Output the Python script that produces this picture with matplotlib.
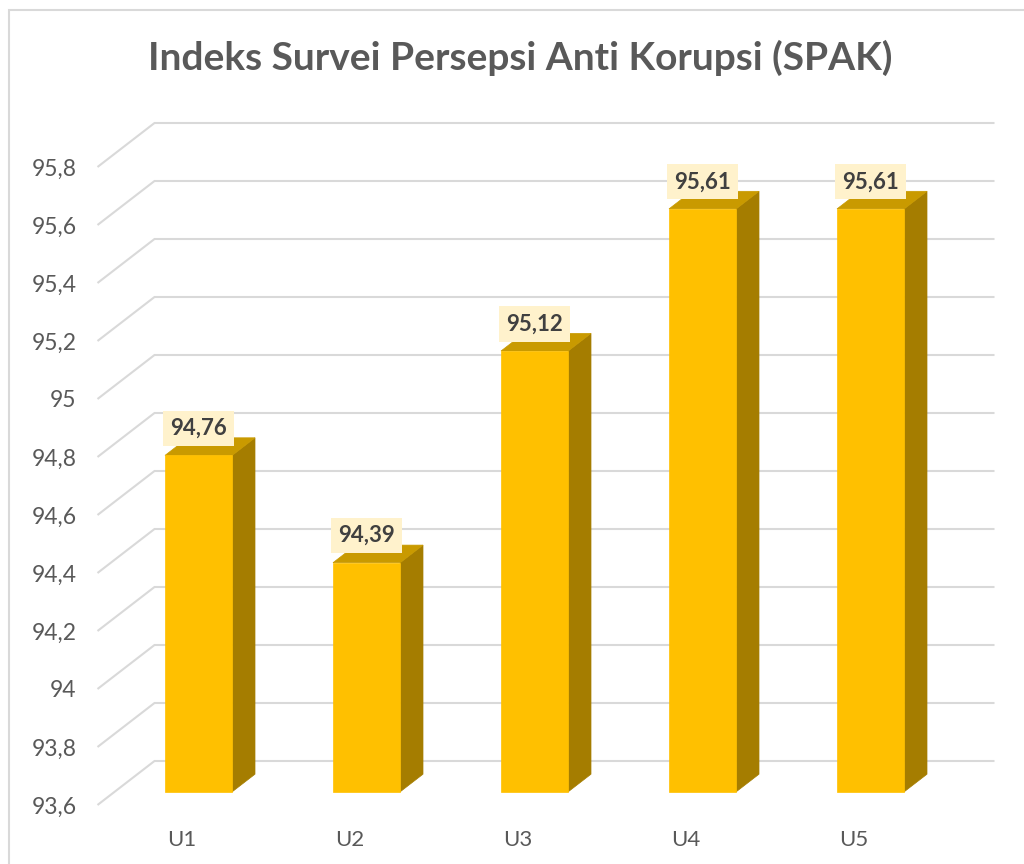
import matplotlib
matplotlib.use("Agg")
import matplotlib.pyplot as plt
import numpy as np
from matplotlib.patches import Polygon, Rectangle

categories = ["U1", "U2", "U3", "U4", "U5"]
values = [94.76, 94.39, 95.12, 95.61, 95.61]
value_labels = ["94,76", "94,39", "95,12", "95,61", "95,61"]
yticks = [93.6, 93.8, 94.0, 94.2, 94.4, 94.6, 94.8, 95.0, 95.2, 95.4, 95.6, 95.8]
ytick_labels = ["93,6", "93,8", "94", "94,2", "94,4", "94,6", "94,8", "95", "95,2", "95,4", "95,6", "95,8"]
title = "Indeks Survei Persepsi Anti Korupsi (SPAK)"

FONT = "Lato"
W, H = 1024, 864
fig = plt.figure(figsize=(W / 100, H / 100), dpi=100)
fig.patch.set_facecolor("white")

# outer chart border
fig.add_artist(Rectangle((9 / W, -0.01), 1.02, 1 - 10 / H + 0.01, transform=fig.transFigure,
                         fill=False, edgecolor="#D9D9D9", lw=1.5))

ax_left, ax_right = 97.5, 937.5
ax_bottom, ax_top = 805, 167
ax = fig.add_axes([ax_left / W, (H - ax_bottom) / H, (ax_right - ax_left) / W, (ax_bottom - ax_top) / H])
ax.set_xlim(-0.5, len(categories) - 0.5)
ax.set_ylim(93.6, 95.8)
for s in ax.spines.values():
    s.set_visible(False)
ax.patch.set_visible(False)

DX, DY = 57.0, 44.0  # depth offset in px for full depth

inv = ax.transData.inverted()


def P(x, y, d):
    px, py = ax.transData.transform((x, y))
    return inv.transform((px + DX * d * fig.dpi / 100, py + DY * d * fig.dpi / 100))


grid_c = "#D9D9D9"
x0, x1 = -0.5, len(categories) - 0.5
for t in yticks:
    pts = np.array([P(x0, t, 0), P(x0, t, 1), P(x1, t, 1)])
    ax.plot(pts[:, 0], pts[:, 1], color=grid_c, lw=1.5, clip_on=False, zorder=1,
            solid_capstyle="butt")

# bars
bw = 0.4
d_front, d_back = 0.3, 0.7
front_c, top_c, side_c = "#FFC000", "#C99A00", "#A57D00"
base = 93.6
for i, v in enumerate(values):
    xl, xr = i - bw / 2, i + bw / 2
    front = [P(xl, base, d_front), P(xr, base, d_front), P(xr, v, d_front), P(xl, v, d_front)]
    side = [P(xr, base, d_front), P(xr, base, d_back), P(xr, v, d_back), P(xr, v, d_front)]
    top = [P(xl, v, d_front), P(xr, v, d_front), P(xr, v, d_back), P(xl, v, d_back)]
    for poly, c in ((side, side_c), (top, top_c), (front, front_c)):
        ax.add_patch(Polygon(poly, closed=True, facecolor=c, edgecolor=c, lw=0.5,
                             clip_on=False, zorder=3))
    lx, ly = P(i, v, d_front)
    ax.annotate(value_labels[i], (lx, ly), xytext=(0, 19.5), textcoords="offset points",
                ha="center", va="center", fontsize=16, fontweight="bold", color="#404040",
                family=FONT, zorder=5, annotation_clip=False,
                bbox=dict(boxstyle="square,pad=0.32", facecolor="#FFF2CC", edgecolor="none"))

ax.set_yticks(yticks)
ax.set_yticklabels(ytick_labels, family=FONT, fontsize=16.5, color="#595959")
ax.set_xticks(range(len(categories)))
ax.set_xticklabels(categories, family=FONT, fontsize=16, color="#595959")
ax.tick_params(axis="y", length=0, pad=15)
ax.tick_params(axis="x", length=0, pad=18)

fig.text(520 / W, 1 - 58 / H, title, ha="center", va="center", fontsize=28,
         fontweight="bold", color="#595959", family=FONT)

fig.savefig("out.png", dpi=100)
